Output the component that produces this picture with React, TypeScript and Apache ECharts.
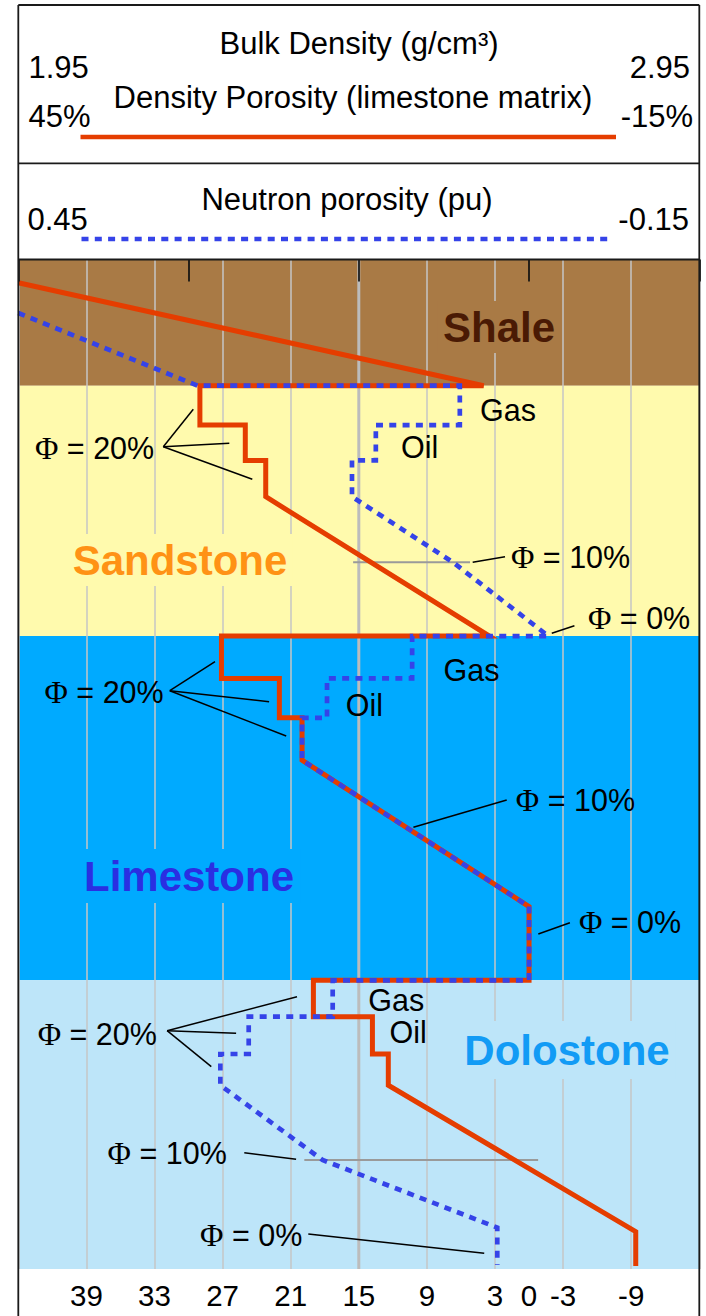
import React, { useEffect, useRef } from 'react';
import * as echarts from 'echarts';

// ---------- data ----------
const X_MIN = -15; // neutron porosity (pu, limestone units) at right edge
const X_MAX = 45; // at left edge
const DEPTH_MIN = 0;
const DEPTH_MAX = 100;

const X_TICK_LABELS = [39, 33, 27, 21, 15, 9, 3, 0, -3, -9];

const FORMATIONS = ['Shale', 'Sandstone', 'Limestone', 'Dolostone'];
const FORMATION_TOP = [0, 12.5, 37.3, 71.4];
const FORMATION_BASE = [12.5, 37.3, 71.4, 100];

// Density porosity (limestone matrix), %
const DENSITY_PU = [45, 4, 29, 29, 25, 25, 23.2, 23.2, 3.5, 27.1, 27.1, 22, 22, 20, 20, 0, 0, 19, 19, 13.8, 13.8, 12.4, 12.4, -9.4, -9.4];
const DENSITY_DEPTH = [2.3, 12.5, 12.5, 16.4, 16.4, 19.9, 19.9, 23.5, 37.3, 37.3, 41.5, 41.5, 45.4, 45.4, 49.6, 64.1, 71.4, 71.4, 75.0, 75.0, 78.7, 78.7, 81.8, 96.3, 99.7];

// Neutron porosity, pu
const NEUTRON_PU = [45, 29.2, 6.1, 6.1, 13.5, 13.5, 15.6, 15.6, 6.7, -1.7, 10.3, 10.3, 17.8, 17.8, 20, 20, 0, 0, 17.3, 17.3, 24.7, 24.7, 27.2, 27.2, 18.2, 2.8, 2.8];
const NEUTRON_DEPTH = [5.3, 12.5, 12.5, 16.4, 16.4, 19.9, 19.9, 23.5, 30.0, 37.3, 37.3, 41.5, 41.5, 45.4, 45.4, 49.6, 64.1, 71.4, 71.4, 75.0, 75.0, 78.7, 78.7, 81.8, 89.2, 95.9, 99.6];

// Φ = 10% reference lines
const PHI10_DEPTH = [30.0, 89.2];
const PHI10_LEFT_PU = [15.5, 19.8];
const PHI10_RIGHT_PU = [5.2, -0.8];

const CENTER_GRID_PU = 15;

// ---------- styles ----------
const SANS = '"Liberation Sans", Arial, Helvetica, sans-serif';
const SERIF = '"Liberation Serif", "Times New Roman", serif';
const BAND_COLORS = ['#A97A45', '#FFFAAD', '#00AAFF', '#BDE5F9'];
const LABEL_COLORS = ['#4A1A04', '#FF9215', '#2A2FE2', '#129BF5'];
const RED = '#E53D00';
const BLUE = '#3543E8';
const FRAME = '#1a1a1a';

const GRID = { left: 18.3, top: 259.5, width: 681, height: 1009.5 };

type TextOpts = {
  size?: number;
  weight?: string;
  fill?: string;
  align?: string;
  bg?: string;
  pad?: number[];
  z?: number;
  rich?: any;
};

function text(t: string, x: number, y: number, o: TextOpts = {}) {
  return {
    type: 'text',
    x,
    y,
    z: o.z ?? 30,
    silent: true,
    style: {
      text: t,
      fontSize: o.size ?? 30.5,
      fontFamily: SANS,
      fontWeight: o.weight ?? 'normal',
      fill: o.fill ?? '#000',
      align: o.align ?? 'left',
      textAlign: o.align ?? 'left',
      verticalAlign: 'middle',
      textVerticalAlign: 'middle',
      backgroundColor: o.bg,
      padding: o.pad,
      rich: o.rich,
    },
  };
}

const PHI_RICH = { p: { fontFamily: SERIF, fontSize: 32, fill: '#000' } };
function phi(label: string, x: number, y: number) {
  return text('{p|Φ} = ' + label, x, y, { rich: PHI_RICH });
}

function seg(x1: number, y1: number, x2: number, y2: number, stroke = '#000', w = 1.5, z = 30, dash?: number[]) {
  return {
    type: 'line',
    z,
    silent: true,
    shape: { x1, y1, x2, y2 },
    style: { stroke, lineWidth: w, lineDash: dash },
  };
}

function leaders(ox: number, oy: number, ends: number[][]) {
  return ends.map((e) => seg(ox, oy, e[0], e[1], '#000', 1.5, 30));
}

export default function App() {
  const ref = useRef<HTMLDivElement>(null);

  useEffect(() => {
    const chart = echarts.init(ref.current!, null, { renderer: 'svg', width: 706, height: 1316 });

    const axisBase = {
      type: 'value',
      min: X_MIN,
      max: X_MAX,
      inverse: true,
      axisLine: { show: false },
      axisTick: { show: false },
      axisLabel: { show: false },
      splitLine: { show: false },
    };

    const graphic: any[] = [
      // frame
      seg(18.3, 5, 699.3, 5, FRAME, 1.8, 40),
      seg(18.3, 5, 18.3, 1316, FRAME, 1.8, 40),
      seg(699.3, 5, 699.3, 1316, FRAME, 1.8, 40),
      seg(18.3, 163.3, 699.3, 163.3, FRAME, 1.8, 40),
      seg(18.3, 259.5, 699.3, 259.5, FRAME, 1.8, 40),
      // header
      text('Bulk Density (g/cm³)', 359, 43.5, { align: 'center', size: 31 }),
      text('1.95', 28.5, 67, { size: 31 }),
      text('2.95', 690, 67, { align: 'right', size: 31 }),
      text('Density Porosity (limestone matrix)', 353, 97, { align: 'center', size: 31 }),
      text('45%', 28.5, 116, { size: 31 }),
      text('-15%', 693, 116, { align: 'right', size: 31 }),
      seg(80.5, 137, 616, 137, RED, 4.5, 30),
      text('Neutron porosity (pu)', 347, 199.5, { align: 'center', size: 31 }),
      text('0.45', 27.5, 219, { size: 31 }),
      text('-0.15', 689, 219, { align: 'right', size: 31 }),
      seg(81.5, 239, 611, 239, BLUE, 4.7, 30, [7, 6.3]),
      // formation names
      text(FORMATIONS[0], 499, 327, { size: 42, weight: 'bold', fill: LABEL_COLORS[0], align: 'center', bg: BAND_COLORS[0], pad: [5, 5], z: 4 }),
      text(FORMATIONS[1], 180, 560, { size: 42, weight: 'bold', fill: LABEL_COLORS[1], align: 'center', bg: BAND_COLORS[1], pad: [5, 5], z: 4 }),
      text(FORMATIONS[2], 189, 876, { size: 42, weight: 'bold', fill: LABEL_COLORS[2], align: 'center', bg: BAND_COLORS[2], pad: [6, 6], z: 4 }),
      text(FORMATIONS[3], 567, 1050, { size: 42, weight: 'bold', fill: LABEL_COLORS[3], align: 'center', bg: BAND_COLORS[3], pad: [8, 6], z: 4 }),
      // sandstone annotations
      phi('20%', 35, 447.5),
      ...leaders(163.3, 446.7, [[193.3, 409.3], [229.3, 443.3], [252.3, 479.3]]),
      text('Gas', 480, 410),
      text('Oil', 401, 447),
      phi('10%', 511, 556.7),
      seg(472.7, 562.3, 505, 556.7),
      phi('0%', 588, 618.3),
      seg(551.8, 633.3, 574.4, 625.7),
      // limestone annotations
      phi('20%', 44.5, 691.7),
      ...leaders(169.8, 690.7, [[215, 661.7], [269.1, 701.7], [286.2, 736]]),
      text('Gas', 443.6, 670),
      text('Oil', 345.7, 705),
      phi('10%', 515.8, 800),
      seg(413.4, 827.3, 506.7, 800),
      phi('0%', 578.9, 921.7),
      seg(538.3, 934, 569.9, 922.7),
      // dolostone annotations
      text('Gas', 368.3, 1000),
      text('Oil', 389.5, 1031.7),
      phi('20%', 37.7, 1034),
      ...leaders(167.1, 1030.7, [[297, 996.7], [236.1, 1033.3], [211.3, 1066.7]]),
      phi('10%', 107.6, 1153.3),
      seg(244.3, 1152.7, 296.1, 1159.3),
      phi('0%', 200.1, 1235),
      seg(308.3, 1234, 484.2, 1253.3),
    ];

    const option: any = {
      animation: false,
      backgroundColor: '#ffffff',
      grid: GRID,
      xAxis: [
        {
          ...axisBase,
          position: 'bottom',
          interval: 3,
          axisLabel: {
            show: true,
            margin: 11,
            fontSize: 29.5,
            color: '#000',
            fontFamily: SANS,
            formatter: (v: number) => (X_TICK_LABELS.indexOf(Math.round(v)) >= 0 ? String(Math.round(v)) : ''),
          },
        },
        {
          ...axisBase,
          position: 'bottom',
          interval: 6,
          z: 3,
          splitLine: { show: true, lineStyle: { color: '#c6c6c6', width: 1.5 } },
        },
        {
          ...axisBase,
          position: 'top',
          interval: 15,
          z: 25,
          axisTick: { show: true, inside: true, length: 22, lineStyle: { color: '#111', width: 1.7 } },
        },
      ],
      yAxis: { type: 'value', min: DEPTH_MIN, max: DEPTH_MAX, inverse: true, show: false },
      series: [
        {
          type: 'custom',
          z: 1,
          silent: true,
          data: FORMATIONS.map((_, i) => [FORMATION_TOP[i], FORMATION_BASE[i], i]),
          encode: { x: 2, y: 0 },
          renderItem: (_p: any, api: any) => {
            const top = api.value(0);
            const base = api.value(1);
            const i = api.value(2);
            const a = api.coord([X_MAX, top]);
            const b = api.coord([X_MIN, base]);
            return {
              type: 'rect',
              shape: { x: Math.min(a[0], b[0]), y: Math.min(a[1], b[1]), width: Math.abs(b[0] - a[0]), height: Math.abs(b[1] - a[1]) },
              style: { fill: BAND_COLORS[i] },
            };
          },
        },
        {
          type: 'line',
          z: 3,
          silent: true,
          symbol: 'none',
          data: [[CENTER_GRID_PU, DEPTH_MIN], [CENTER_GRID_PU, DEPTH_MAX]],
          lineStyle: { color: '#bcbcbc', width: 3 },
        },
        ...PHI10_DEPTH.map((d, i) => ({
          type: 'line',
          z: 3,
          silent: true,
          symbol: 'none',
          data: [[PHI10_LEFT_PU[i], d], [PHI10_RIGHT_PU[i], d]],
          lineStyle: { color: '#9a9a9a', width: 2 },
        })),
        {
          name: 'Density porosity',
          type: 'line',
          z: 5,
          silent: true,
          symbol: 'none',
          data: DENSITY_PU.map((v, i) => [v, DENSITY_DEPTH[i]]),
          lineStyle: { color: RED, width: 5, join: 'miter', cap: 'butt' },
        },
        {
          name: 'Neutron porosity',
          type: 'line',
          z: 6,
          silent: true,
          symbol: 'none',
          data: NEUTRON_PU.map((v, i) => [v, NEUTRON_DEPTH[i]]),
          lineStyle: { color: BLUE, width: 4.7, type: [7, 6.3], join: 'miter', cap: 'butt' },
        },
      ],
      graphic: { elements: graphic },
    };

    chart.setOption(option);
    return () => chart.dispose();
  }, []);

  return (
    <div
      ref={ref}
      style={{ position: 'absolute', left: 0, top: 0, width: 706, height: 1316, background: '#fff' }}
    />
  );
}
